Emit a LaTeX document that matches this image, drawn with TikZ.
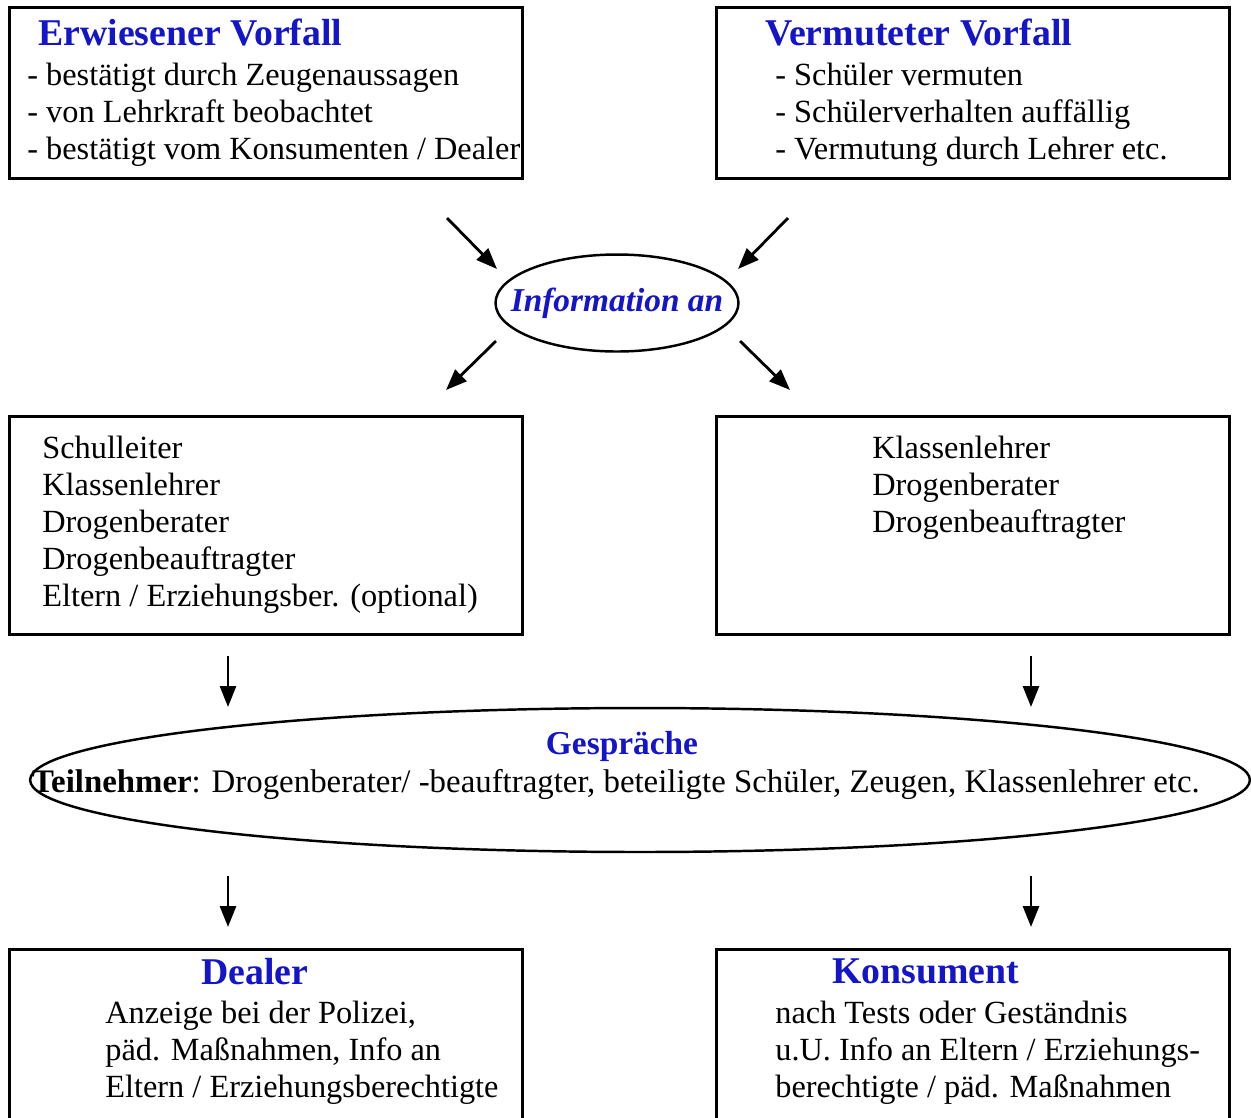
\documentclass[tikz,border=0pt]{standalone}
\usepackage{fontspec}
\setmainfont{Liberation Serif}
\usetikzlibrary{arrows.meta,positioning,shapes.geometric}
\definecolor{titleblue}{RGB}{20,20,200}

\begin{document}
\begin{tikzpicture}[
    x=0.02cm, y=-0.02cm,
    flow/.style={-{Triangle[length=0.42cm,width=0.32cm]},line width=1.6pt},
    box/.style={rectangle,draw,line width=1.5pt,anchor=north west,minimum width=10.26cm,inner sep=0},
    blurb/.style={anchor=north west,align=left,inner sep=0,font=\fontsize{18.4}{21}\selectfont},
    heading/.style={anchor=north west,inner sep=0,text=titleblue,font=\fontsize{21.5}{24}\selectfont\bfseries}
]
\useasboundingbox (0,0) rectangle (1251,1117);
\clip (0,0) rectangle (1251,1117);

% Boxes
\node[box,minimum height=3.42cm] (proven) at (8,6) {};
\node[box,minimum height=3.42cm] (suspected) at (715,6) {};
\node[box,minimum height=4.36cm] (staffall) at (8,415) {};
\node[box,minimum height=4.36cm] (staffsome) at (715,415) {};
\node[box,minimum height=3.8cm] (dealer) at (8,948) {};
\node[box,minimum height=3.8cm] (consumer) at (715,948) {};

% Box texts
\node[heading] (provenhead) at (38,19) {Erwiesener Vorfall};
\node[blurb] (proventext) at (27,63) {- bestätigt durch Zeugenaussagen\\- von Lehrkraft beobachtet\\- bestätigt vom Konsumenten / Dealer};
\node[heading] (suspectedhead) at (765,19) {Vermuteter Vorfall};
\node[blurb] (suspectedtext) at (775,63) {- Schüler vermuten\\- Schülerverhalten auffällig\\- Vermutung durch Lehrer etc.};
\node[blurb] (staffalltext) at (42,436) {Schulleiter\\Klassenlehrer\\Drogenberater\\Drogenbeauftragter\\Eltern / Erziehungsber. (optional)};
\node[blurb] (staffsometext) at (872,436) {Klassenlehrer\\Drogenberater\\Drogenbeauftragter};
\node[heading,anchor=north] (dealerhead) at (255,958) {Dealer};
\node[blurb] (dealertext) at (105,1001) {Anzeige bei der Polizei,\\päd. Maßnahmen, Info an\\Eltern / Erziehungsberechtigte};
\node[heading] (consumerhead) at (832,958) {Konsument};
\node[blurb] (consumertext) at (775,1001) {nach Tests oder Geständnis\\u.U. Info an Eltern / Erziehungs-\\berechtigte / päd. Maßnahmen};

% Ellipses
\node[ellipse,draw,line width=1.4pt,minimum width=4.86cm,minimum height=1.94cm] (info) at (617,303) {};
\node[text=titleblue,inner sep=0,font=\fontsize{19}{23}\selectfont\bfseries\itshape] (infotext) at (info.center) {Information an};
\node[ellipse,draw,line width=1.4pt,minimum width=24.4cm,minimum height=2.88cm] (talks) at (640,780) {};
\node[heading,anchor=center,font=\fontsize{19}{23}\selectfont\bfseries] (talkshead) at (622,746) {Gespräche};
\node[blurb,anchor=center,font=\fontsize{18.7}{21}\selectfont] (talkstext) at (616,784) {\textbf{Teilnehmer}: Drogenberater/ -beauftragter, beteiligte Schüler, Zeugen, Klassenlehrer etc.};

% Arrow ends
\coordinate (in1) at (447,218);  \coordinate (in1e) at (497,269);
\coordinate (in2) at (788,218);  \coordinate (in2e) at (738,269);
\coordinate (out1) at (496,341); \coordinate (out1e) at (446,390);
\coordinate (out2) at (740,341); \coordinate (out2e) at (790,390);
\coordinate (down1) at (228,656); \coordinate (down1e) at (228,707);
\coordinate (down2) at (1031,656); \coordinate (down2e) at (1031,707);
\coordinate (down3) at (228,876); \coordinate (down3e) at (228,927);
\coordinate (down4) at (1031,876); \coordinate (down4e) at (1031,927);

% Arrows
\draw[flow] (in1) -- (in1e);
\draw[flow] (in2) -- (in2e);
\draw[flow] (out1) -- (out1e);
\draw[flow] (out2) -- (out2e);
\draw[flow] (down1) -- (down1e);
\draw[flow] (down2) -- (down2e);
\draw[flow] (down3) -- (down3e);
\draw[flow] (down4) -- (down4e);

\end{tikzpicture}
\end{document}
